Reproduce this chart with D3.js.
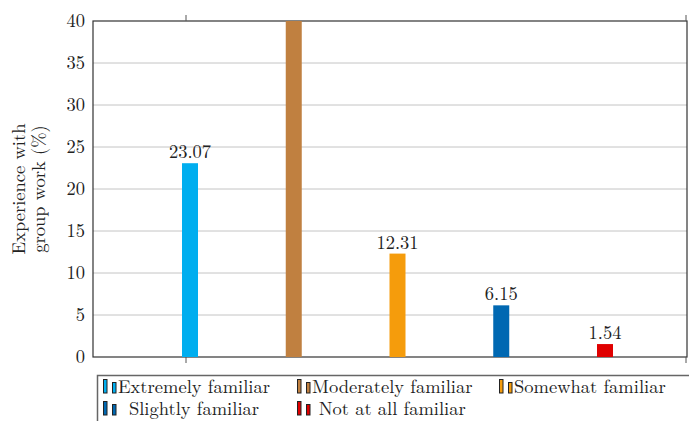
<!DOCTYPE html>
<html>
<head>
<meta charset="utf-8">
<script src="https://cdn.jsdelivr.net/npm/d3@7"></script>
<style>
  html, body { margin: 0; padding: 0; background: #fff; }
  svg { display: block; }
  text { font-family: "Latin Modern Roman", "Liberation Serif", serif; fill: #222; }
</style>
</head>
<body>
<svg id="chart" width="689" height="421"></svg>
<script>
// Familiarity levels and their share (%) of respondents
const categories = ["Extremely familiar", "Moderately familiar", "Somewhat familiar", "Slightly familiar", "Not at all familiar"];
const values = [23.07, 56.92, 12.31, 6.15, 1.54];
const colors = ["#00AEEF", "#C08040", "#F59C0C", "#0068B2", "#E00000"];
const yTicks = [0, 5, 10, 15, 20, 25, 30, 35, 40];
const yLabelLines = ["Experience with", "group work (%)"];

const FONT = "18.5px";
const FAMILY = '"Latin Modern Roman", "Liberation Serif", serif';
const svg = d3.select("#chart");
const plot = { left: 93, right: 687, top: 21, bottom: 357 };

const y = d3.scaleLinear().domain([0, 40]).range([plot.bottom, plot.top]);
const x = d3.scalePoint().domain(categories).range([plot.left + 97, plot.right - 82]);
const barW = 16;

// clip region for the plot area
svg.append("defs").append("clipPath").attr("id", "plotClip")
  .append("rect")
  .attr("x", plot.left).attr("y", plot.top)
  .attr("width", plot.right - plot.left).attr("height", plot.bottom - plot.top);

// horizontal grid
svg.append("g")
  .selectAll("line").data(yTicks.filter(t => t > 0 && t < 40)).join("line")
  .attr("x1", plot.left).attr("x2", plot.right)
  .attr("y1", d => y(d)).attr("y2", d => y(d))
  .attr("stroke", "#c4c4c4").attr("stroke-width", 1);

// y axis labels
const yAxis = d3.axisLeft(y).tickValues(yTicks).tickSize(0).tickPadding(8);
const gy = svg.append("g").attr("transform", `translate(${plot.left},0)`).call(yAxis);
gy.select(".domain").remove();
gy.selectAll("text").style("font-size", FONT).attr("fill", "#222").style("font-family", FAMILY);

// axis frame
svg.append("rect")
  .attr("x", plot.left).attr("y", plot.top)
  .attr("width", plot.right - plot.left).attr("height", plot.bottom - plot.top)
  .attr("fill", "none").attr("stroke", "#333").attr("stroke-width", 1.2);

// bars
const bars = svg.append("g").attr("clip-path", "url(#plotClip)");
bars.selectAll("rect").data(values).join("rect")
  .attr("x", (d, i) => x(categories[i]) - barW / 2)
  .attr("y", d => y(d))
  .attr("width", barW)
  .attr("height", d => y(0) - y(d))
  .attr("fill", (d, i) => colors[i]);

// value labels above bars (only those inside the plot range)
svg.append("g").selectAll("text").data(values.map((v, i) => ({ v, i })).filter(d => d.v <= 40)).join("text")
  .attr("x", d => x(categories[d.i]))
  .attr("y", d => y(d.v) - 5)
  .attr("text-anchor", "middle")
  .style("font-size", FONT)
  .text(d => d.v.toFixed(2));

// outward x tick marks
const xTickPos = [plot.left + 93, plot.right - 1];
const tickG = svg.append("g").attr("stroke", "#555").attr("stroke-width", 1);
xTickPos.forEach(px => {
  tickG.append("line").attr("x1", px).attr("x2", px).attr("y1", plot.bottom).attr("y2", plot.bottom + 6);
  tickG.append("line").attr("x1", px).attr("x2", px).attr("y1", plot.top).attr("y2", plot.top - 6);
});

// y axis title
const yt = svg.append("text")
  .attr("transform", `translate(28,${(plot.top + plot.bottom) / 2}) rotate(-90)`)
  .attr("text-anchor", "middle")
  .style("font-size", FONT);
yLabelLines.forEach((line, i) => {
  yt.append("tspan").attr("x", 0).attr("dy", i === 0 ? "-0.15em" : "1.08em").text(line);
});

// legend
const legend = svg.append("g");
legend.append("rect")
  .attr("x", plot.left + 4.5).attr("y", 375.5)
  .attr("width", 620).attr("height", 60)
  .attr("fill", "#fff").attr("stroke", "#666").attr("stroke-width", 1.5);

const colX = [103, 297, 499];
const rowY = [378, 400];
const entries = categories.map((c, i) => ({ c, i, col: i % 3, row: Math.floor(i / 3) }));

// measure label widths so each column's cells share a common width
const texts = entries.map(e => legend.append("text")
  .attr("y", rowY[e.row] + 15)
  .attr("text-anchor", "middle")
  .style("font-size", FONT)
  .text(e.c));
const widths = texts.map(t => t.node().getComputedTextLength());
const colW = [0, 1, 2].map(c => d3.max(entries.filter(e => e.col === c), e => widths[e.i]));

entries.forEach(e => {
  const gx = colX[e.col], gyy = rowY[e.row];
  const ig = legend.append("g");
  ig.append("rect").attr("x", gx + 0.5).attr("y", gyy + 1.5).attr("width", 3.5).attr("height", 13.5)
    .attr("fill", colors[e.i]).attr("stroke", "#222").attr("stroke-width", 1);
  ig.append("rect").attr("x", gx + 9.5).attr("y", gyy + 4.5).attr("width", 3.5).attr("height", 10.5)
    .attr("fill", colors[e.i]).attr("stroke", "#222").attr("stroke-width", 1);
  texts[e.i].attr("x", gx + 15 + colW[e.col] / 2);
});
</script>
</body>
</html>
